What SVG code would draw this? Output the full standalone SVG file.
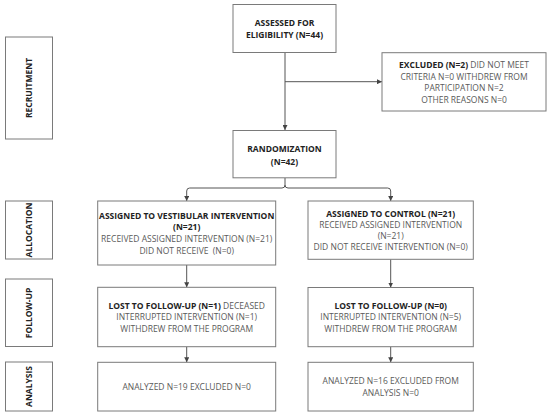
<svg xmlns="http://www.w3.org/2000/svg" width="550" height="418" viewBox="0 0 550 418">
<style>
.box{fill:#fff;stroke:#7a7a7a;stroke-width:1}
.t{font-family:"Open Sans","Liberation Sans",sans-serif;font-size:8.5px;fill:#5a5a5a;text-anchor:middle}
.b{font-weight:bold;fill:#222}
.c{fill:none;stroke:#555;stroke-width:1}
</style>
<defs>
<marker id="ah" viewBox="0 0 6 6" refX="6" refY="3" markerWidth="5" markerHeight="5" orient="auto" markerUnits="userSpaceOnUse">
<path d="M0,0 L6,3 L0,6 z" fill="#444"/>
</marker>
</defs>
<rect width="550" height="418" fill="#fff"/>

<g id="lane-recruitment">
<rect class="box" x="5.5" y="37" width="47" height="102"/>
<text class="t b" transform="translate(32,88) rotate(-90)">RECRUITMENT</text>
</g>
<g id="lane-allocation">
<rect class="box" x="5.5" y="201" width="47" height="58"/>
<text class="t b" transform="translate(32,230) rotate(-90)">ALLOCATION</text>
</g>
<g id="lane-followup">
<rect class="box" x="5.5" y="279" width="47" height="67.5"/>
<text class="t b" transform="translate(32,313) rotate(-90)">FOLLOW-UP</text>
</g>
<g id="lane-analysis">
<rect class="box" x="5.5" y="362" width="47" height="49"/>
<text class="t b" transform="translate(32,386.5) rotate(-90)">ANALYSIS</text>
</g>

<g id="connectors">
<path class="c" d="M285,52.5 V130" marker-end="url(#ah)"/>
<path class="c" d="M285,81.7 H382" marker-end="url(#ah)"/>
<path class="c" d="M285,178 V185 Q285,188 282,188 H189.7 Q186.7,188 186.7,191 V201" marker-end="url(#ah)"/>
<path class="c" d="M285,185 Q285,188 288,188 H387.7 Q390.7,188 390.7,191 V201" marker-end="url(#ah)"/>
<path class="c" d="M186.7,265 V287.3" marker-end="url(#ah)"/>
<path class="c" d="M186.7,346.7 V362.3" marker-end="url(#ah)"/>
<path class="c" d="M390.7,259.3 V287.5" marker-end="url(#ah)"/>
<path class="c" d="M390.7,346.7 V362.3" marker-end="url(#ah)"/>
</g>

<g id="assessed">
<rect class="box" x="233" y="4.5" width="103" height="48"/>
<text class="t b" x="284.5" y="26">ASSESSED FOR</text>
<text class="t b" x="284.5" y="37.5">ELIGIBILITY (N=44)</text>
</g>

<g id="excluded">
<rect class="box" x="382" y="52.7" width="164" height="58.3"/>
<text class="t" x="464" y="68.3"><tspan class="b">EXCLUDED (N=2)</tspan> DID NOT MEET</text>
<text class="t" x="464" y="79.7">CRITERIA N=0 WITHDREW FROM</text>
<text class="t" x="464" y="91">PARTICIPATION N=2</text>
<text class="t" x="464" y="102.7">OTHER REASONS N=0</text>
</g>

<g id="randomization">
<rect class="box" x="233" y="130.5" width="103" height="47.3"/>
<text class="t b" x="284.5" y="152">RANDOMIZATION</text>
<text class="t b" x="284.5" y="164.5">(N=42)</text>
</g>

<g id="alloc-vestibular">
<rect class="box" x="97.7" y="201" width="178" height="64"/>
<text class="t b" x="186.7" y="218.7">ASSIGNED TO VESTIBULAR INTERVENTION</text>
<text class="t b" x="186.7" y="230.2">(N=21)</text>
<text class="t" x="186.7" y="242">RECEIVED ASSIGNED INTERVENTION (N=21)</text>
<text class="t" x="186.7" y="253.5" xml:space="preserve">DID NOT RECEIVE  (N=0)</text>
</g>

<g id="alloc-control">
<rect class="box" x="308" y="201" width="165.3" height="58.3"/>
<text class="t b" x="390.7" y="216.5">ASSIGNED TO CONTROL (N=21)</text>
<text class="t" x="390.7" y="227.5">RECEIVED ASSIGNED INTERVENTION</text>
<text class="t" x="390.7" y="238.5">(N=21)</text>
<text class="t" x="390.7" y="249.5">DID NOT RECEIVE INTERVENTION (N=0)</text>
</g>

<g id="followup-vestibular">
<rect class="box" x="97.7" y="287.3" width="178" height="59.4"/>
<text class="t" x="186.7" y="308.5"><tspan class="b">LOST TO FOLLOW-UP (N=1)</tspan> DECEASED</text>
<text class="t" x="186.7" y="320">INTERRUPTED INTERVENTION (N=1)</text>
<text class="t" x="186.7" y="331.5">WITHDREW FROM THE PROGRAM</text>
</g>

<g id="followup-control">
<rect class="box" x="308" y="287.5" width="165.3" height="59.2"/>
<text class="t b" x="390.7" y="308.5">LOST TO FOLLOW-UP (N=0)</text>
<text class="t" x="390.7" y="320">INTERRUPTED INTERVENTION (N=5)</text>
<text class="t" x="390.7" y="331.5">WITHDREW FROM THE PROGRAM</text>
</g>

<g id="analysis-vestibular">
<rect class="box" x="97.7" y="362.3" width="178" height="48.7"/>
<text class="t" x="186.7" y="389.7">ANALYZED N=19 EXCLUDED N=0</text>
</g>

<g id="analysis-control">
<rect class="box" x="308" y="362.3" width="165.3" height="48.7"/>
<text class="t" x="390.7" y="384">ANALYZED N=16 EXCLUDED FROM</text>
<text class="t" x="390.7" y="395.7">ANALYSIS N=0</text>
</g>
</svg>
